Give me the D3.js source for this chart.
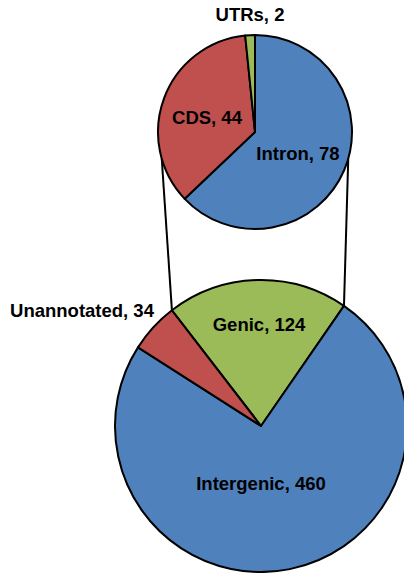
<!DOCTYPE html>
<html>
<head>
<meta charset="utf-8">
<script src="https://cdn.jsdelivr.net/npm/d3@7"></script>
<style>
  body { margin: 0; background: #fff; }
  text { font-family: "Liberation Sans", Arial, sans-serif; font-weight: 700; font-size: 18.5px; fill: #000; }
</style>
</head>
<body>
<div id="vis"></div>
<script>
// Frame
const FRAME_WIDTH = 404;
const FRAME_HEIGHT = 573;

// Data: breakdown of genic part (top pie)
const GENIC_PARTS = ["Intron", "CDS", "UTRs"];
const GENIC_VALUES = [78, 44, 2];
const GENIC_COLORS = ["#4F81BD", "#C0504D", "#9BBB59"];

// Data: whole set (bottom pie)
const ALL_PARTS = ["Genic", "Intergenic", "Unannotated"];
const ALL_VALUES = [124, 460, 34];
const ALL_COLORS = ["#9BBB59", "#4F81BD", "#C0504D"];

// Pie geometry
const TOP = {cx: 255, cy: 132, r: 97};
const BOT = {cx: 261, cy: 426, r: 146};
const DEG = Math.PI / 180;

// label positions (x, baseline y) in frame coords
const TOP_LABELS = [[298, 160], [207, 124], [250, 21]];
const BOT_LABELS = [[259, 331], [261, 490], [82, 317]];

const FRAME = d3.select("#vis")
  .append("svg")
    .attr("width", FRAME_WIDTH)
    .attr("height", FRAME_HEIGHT);

// pies
const topPie = d3.pie().sort(null).startAngle(0).endAngle(2 * Math.PI);
const topArcs = topPie(GENIC_VALUES);

const botStart = -37.6 * DEG;
const botPie = d3.pie().sort(null).startAngle(botStart).endAngle(botStart + 2 * Math.PI);
const botArcs = botPie(ALL_VALUES);

const topArc = d3.arc().innerRadius(0).outerRadius(TOP.r);
const botArc = d3.arc().innerRadius(0).outerRadius(BOT.r);

// point on a circle at d3 pie angle (0 = up, clockwise)
function onCircle(c, a) {
  return [c.cx + c.r * Math.sin(a), c.cy - c.r * Math.cos(a)];
}

// connector lines from top pie to genic slice of bottom pie
const genic = botArcs[0];
const links = [
  [onCircle(TOP, -106 * DEG), onCircle(BOT, genic.startAngle)],
  [onCircle(TOP, 106 * DEG), onCircle(BOT, genic.endAngle)]
];
FRAME.append("g")
  .selectAll("line")
  .data(links)
  .enter()
  .append("line")
    .attr("x1", (d) => { return d[0][0]; })
    .attr("y1", (d) => { return d[0][1]; })
    .attr("x2", (d) => { return d[1][0]; })
    .attr("y2", (d) => { return d[1][1]; })
    .attr("stroke", "#000")
    .attr("stroke-width", 2);

// top pie
FRAME.append("g")
  .attr("transform", "translate(" + TOP.cx + "," + TOP.cy + ")")
  .selectAll("path")
  .data(topArcs)
  .enter()
  .append("path")
    .attr("d", topArc)
    .attr("fill", (d, i) => { return GENIC_COLORS[i]; })
    .attr("stroke", "#000")
    .attr("stroke-width", 2)
    .attr("stroke-linejoin", "round");

// bottom pie
FRAME.append("g")
  .attr("transform", "translate(" + BOT.cx + "," + BOT.cy + ")")
  .selectAll("path")
  .data(botArcs)
  .enter()
  .append("path")
    .attr("d", botArc)
    .attr("fill", (d, i) => { return ALL_COLORS[i]; })
    .attr("stroke", "#000")
    .attr("stroke-width", 2)
    .attr("stroke-linejoin", "round");

// labels
FRAME.append("g")
  .selectAll("text")
  .data(GENIC_PARTS)
  .enter()
  .append("text")
    .attr("x", (d, i) => { return TOP_LABELS[i][0]; })
    .attr("y", (d, i) => { return TOP_LABELS[i][1]; })
    .attr("text-anchor", "middle")
    .text((d, i) => { return d + ", " + GENIC_VALUES[i]; });

FRAME.append("g")
  .selectAll("text")
  .data(ALL_PARTS)
  .enter()
  .append("text")
    .attr("x", (d, i) => { return BOT_LABELS[i][0]; })
    .attr("y", (d, i) => { return BOT_LABELS[i][1]; })
    .attr("text-anchor", "middle")
    .text((d, i) => { return d + ", " + ALL_VALUES[i]; });
</script>
</body>
</html>
